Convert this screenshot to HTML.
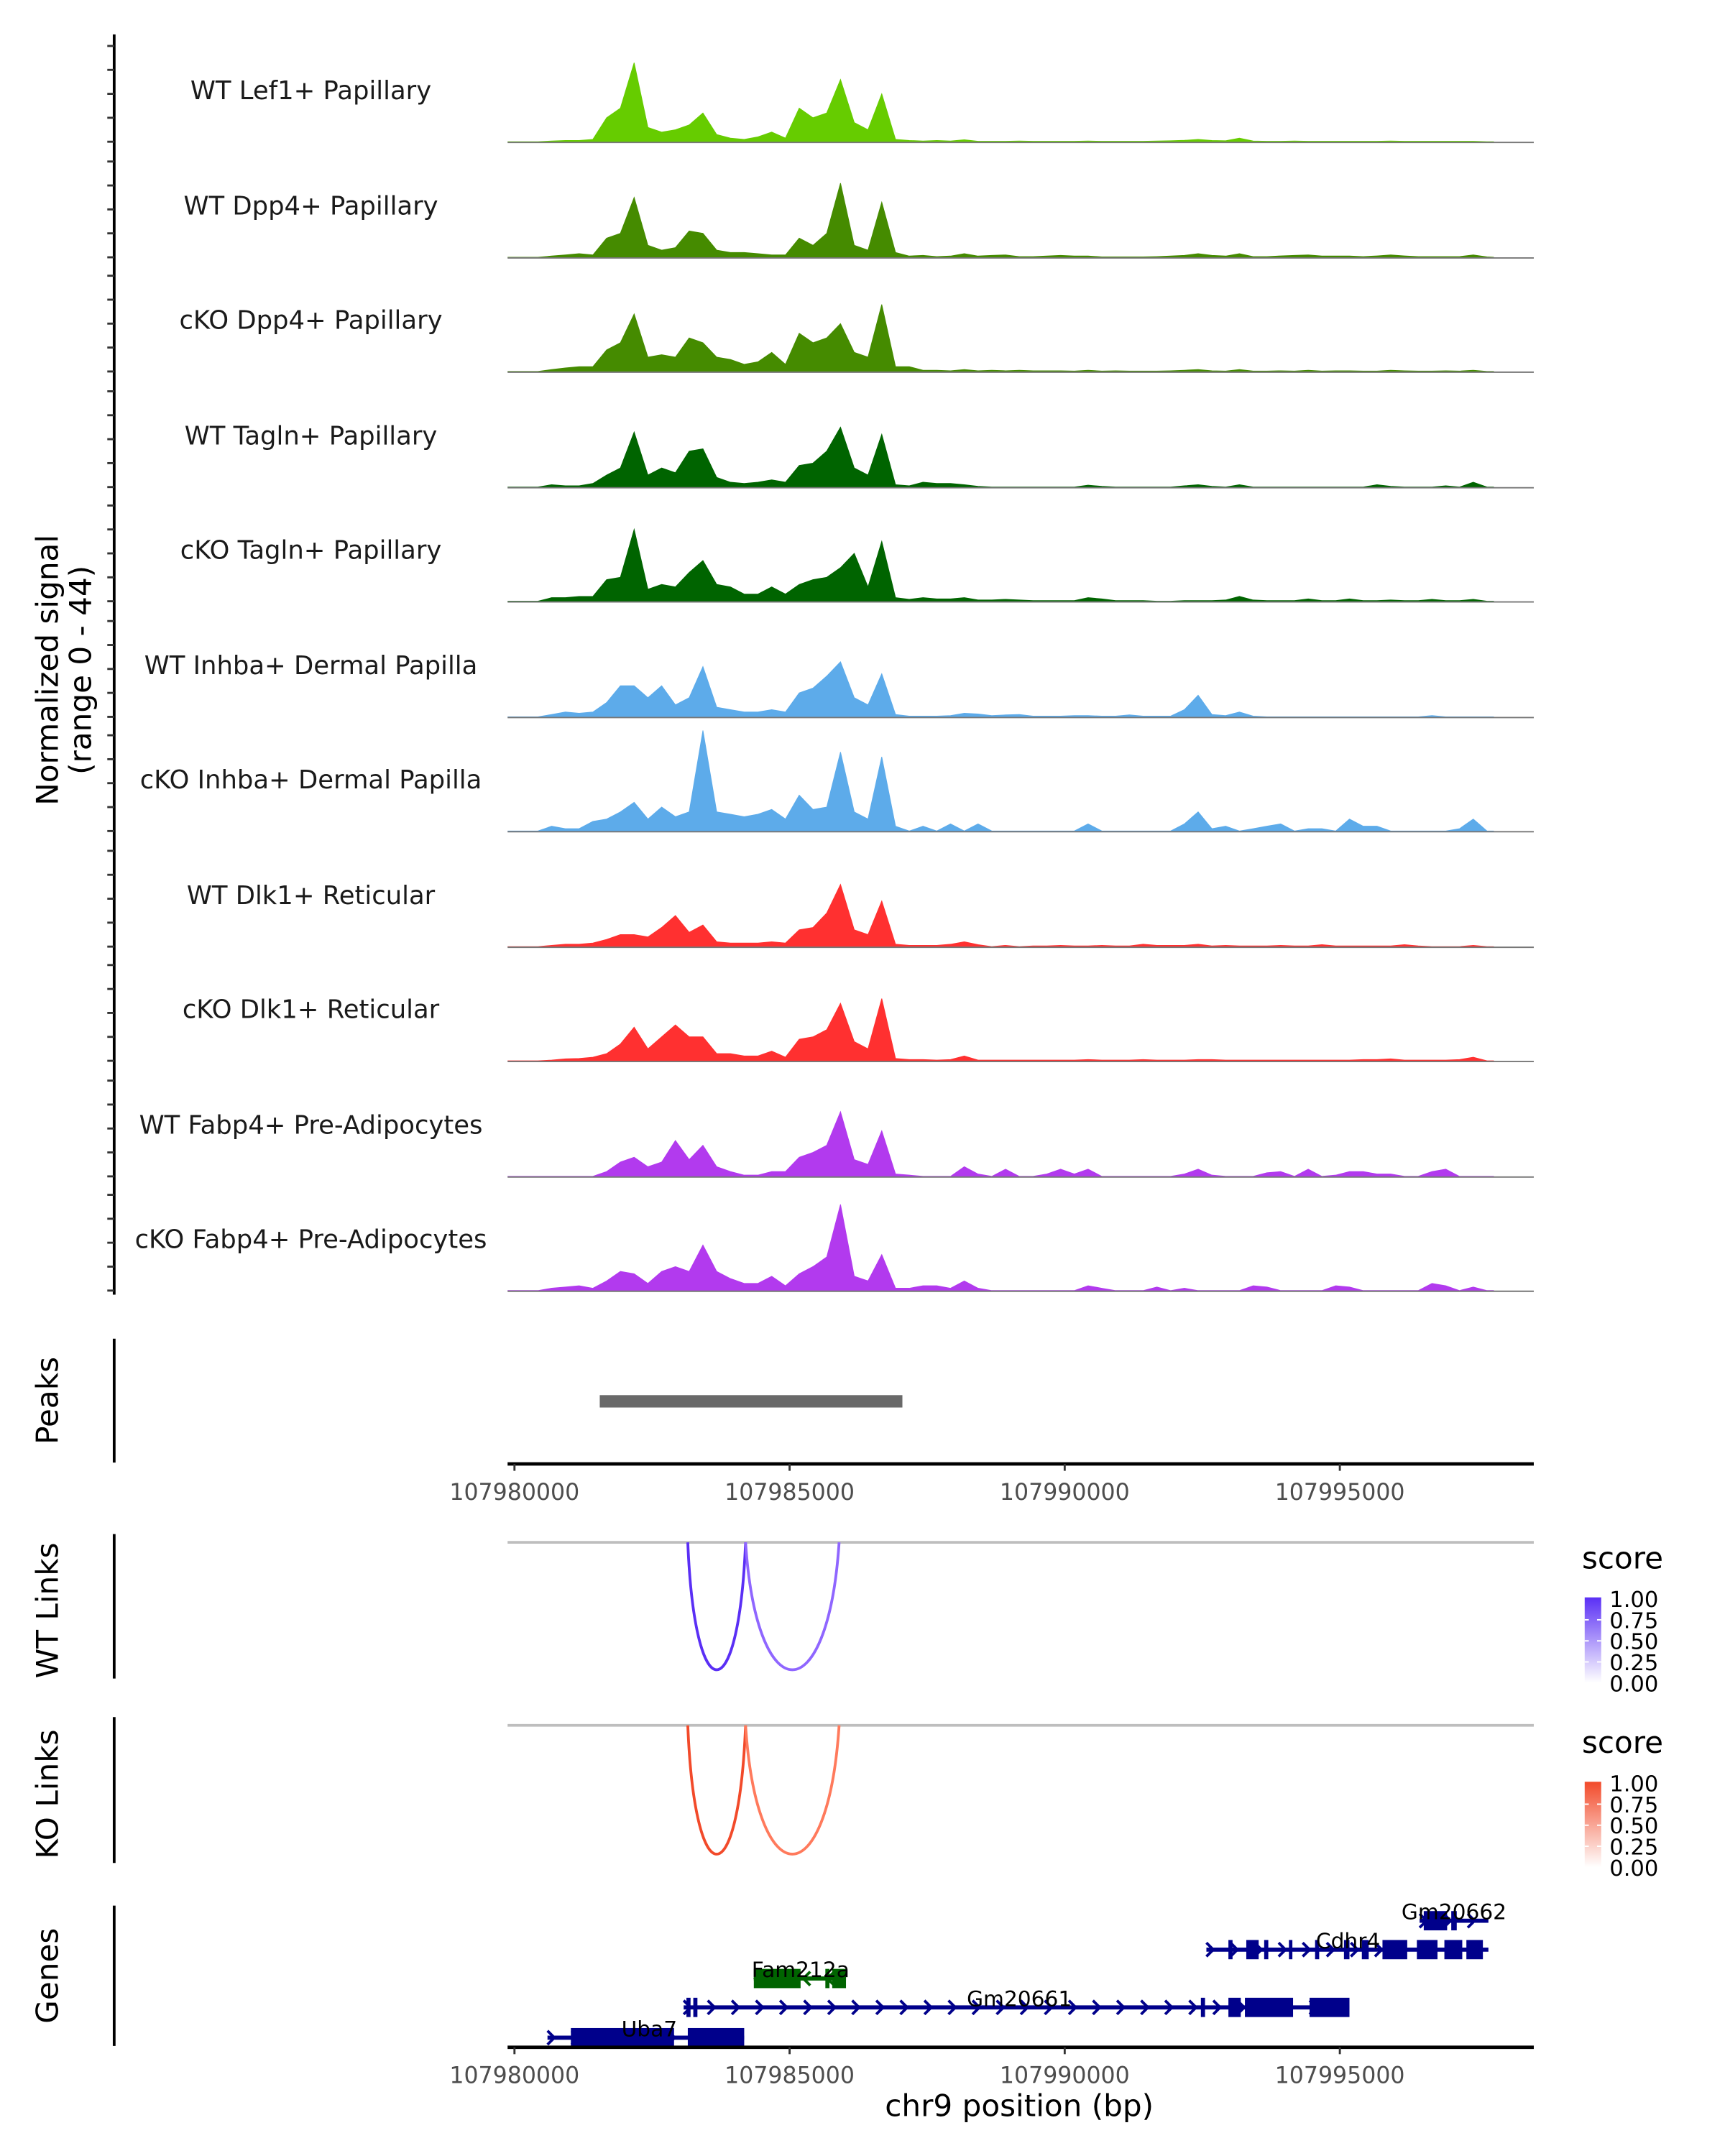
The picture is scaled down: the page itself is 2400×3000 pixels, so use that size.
<!DOCTYPE html>
<html><head><meta charset="utf-8"><style>
html,body{margin:0;padding:0;background:#fff;}
svg{display:block;font-family:"DejaVu Sans","Liberation Sans",sans-serif;}
</style></head><body>
<svg id="chart" width="2400" height="3000" viewBox="0 0 1254 1567" preserveAspectRatio="none" xmlns="http://www.w3.org/2000/svg"></svg>
<script>
// ---- data ----
const trackNames = ["WT Lef1+ Papillary","WT Dpp4+ Papillary","cKO Dpp4+ Papillary","WT Tagln+ Papillary","cKO Tagln+ Papillary","WT Inhba+ Dermal Papilla","cKO Inhba+ Dermal Papilla","WT Dlk1+ Reticular","cKO Dlk1+ Reticular","WT Fabp4+ Pre-Adipocytes","cKO Fabp4+ Pre-Adipocytes"];
const trackColors = ["#66CC00","#458B00","#458B00","#006400","#006400","#5DABEA","#5DABEA","#FF3030","#FF3030","#B23AEE","#B23AEE"];
const binStart = 107979800;
const binSize = 250;
const sigLef1 = [0,0,0,0.3,0.5,0.5,1,10,14,33,6,4,5,7,12,3,1.5,1,2,4,1.5,14,10,12,26,8,5,20,1,0.5,0.3,0.5,0.3,0.8,0.2,0.2,0.2,0.3,0.2,0.2,0.2,0.2,0.3,0.2,0.2,0.2,0.2,0.3,0.4,0.6,1,0.5,0.4,1.5,0.3,0.2,0.2,0.3,0.2,0.2,0.2,0.2,0.2,0.2,0.3,0.2,0.2,0.2,0.2,0.2,0.2,0];
const sigWTDpp4 = [0,0,0,0.5,1,1.5,1,8,10,25,5,3,4,11,10,3,2,2,1.5,1,1,8,5,10,31,5,3,23,2,0.5,0.8,0.3,0.5,1.5,0.5,0.8,1,0.3,0.3,0.5,0.8,0.5,0.5,0.2,0.2,0.2,0.2,0.3,0.5,0.8,1.5,0.8,0.5,1.5,0.3,0.3,0.6,0.8,1,0.5,0.5,0.5,0.3,0.6,1,0.6,0.3,0.3,0.3,0.3,1,0.2];
const sigKODpp4 = [0,0,0,0.8,1.5,2,2,9,12,24,6,7,6,14,12,6,5,3,4,8,3,16,12,14,20,8,6,28,2,2,0.5,0.5,0.3,0.8,0.3,0.5,0.3,0.5,0.3,0.3,0.3,0.2,0.5,0.2,0.3,0.2,0.2,0.2,0.3,0.5,0.8,0.3,0.2,0.8,0.2,0.2,0.3,0.2,0.5,0.2,0.3,0.3,0.2,0.2,0.5,0.3,0.2,0.2,0.3,0.2,0.5,0];
const sigWTTagln = [0,0,0,1,0.5,0.5,1.5,5,8,23,5,8,6,15,16,4,2,1.5,2,3,2,9,10,15,25,8,5,22,1,0.5,2,1.5,1.5,1,0.3,0,0,0,0,0,0,0,0.8,0.3,0,0,0,0,0,0.5,1,0.3,0,1,0,0,0,0,0,0,0,0,0,1,0.3,0,0,0,0.5,0,2,0];
const sigKOTagln = [0,0,0,1.5,1.5,2,2,9,10,30,5,7,6,12,17,7,6,3,3,6,3,7,9,10,14,20,6,25,1.5,0.8,1.5,1,1,1.5,0.5,0.5,0.8,0.5,0.3,0.3,0.3,0.3,1.5,1,0.3,0.3,0.3,0,0,0.3,0.3,0.3,0.5,2,0.5,0.3,0.3,0.3,1,0.3,0.3,1,0.3,0.3,0.5,0.3,0.3,0.8,0.3,0.3,0.8,0];
const sigWTInhba = [0,0,0,1,2,1.5,2,6,13,13,8,13,5,8,21,4,3,2,2,3,2,10,12,17,23,8,5,18,1,0.3,0.3,0.3,0.5,1.5,1.2,0.5,0.8,1,0.3,0.3,0.3,0.5,0.5,0.3,0.3,0.8,0.3,0.3,0.3,3,9,1,0.5,2,0.3,0,0,0,0,0,0,0,0,0,0,0,0,0.5,0,0,0,0];
const sigKOInhba = [0,0,0,2,1,1,4,5,8,12,5,10,6,8,42,8,7,6,7,9,5,15,9,10,33,8,5,31,2,0,2,0,3,0,3,0,0,0,0,0,0,0,3,0,0,0,0,0,0,3,8,1,2,0,1,2,3,0,1,1,0,5,2,2,0,0,0,0,0,1,5,0];
const sigWTDlk1 = [0,0,0,0.5,1,1,1.5,3,5,5,4,8,13,6,9,2,1.5,1.5,1.5,2,1.5,7,8,14,26,7,5,19,1,0.5,0.5,0.5,1,2,0.8,0,0.5,0,0.3,0.3,0.5,0.3,0.3,0.5,0.3,0.3,1,0.5,0.5,0.5,1,0.3,0.5,0.3,0.3,0.3,0.5,0.3,0.3,0.8,0.3,0.3,0.3,0.3,0.3,0.8,0.3,0,0,0,0.5,0];
const sigKODlk1 = [0,0,0,0.3,0.8,1,1.5,3,7,14,5,10,15,10,10,3,3,2,2,4,1.5,9,10,13,24,8,5,26,1,0.5,0.5,0.3,0.5,2,0.3,0.3,0.3,0.3,0.3,0.3,0.3,0.3,0.5,0.3,0.3,0.3,0.5,0.3,0.3,0.3,0.5,0.5,0.3,0.3,0.3,0.3,0.3,0.3,0.3,0.3,0.3,0.3,0.5,0.5,0.8,0.3,0.3,0.3,0.3,0.5,1.5,0];
const sigWTFabp4 = [0,0,0,0,0,0,0,2,6,8,4,6,15,7,13,4,2,0.5,0.5,2,2,8,10,13,27,7,5,19,1,0.5,0,0,0,4,1,0,3,0,0,1,3,1,3,0,0,0,0,0,0,1,3,0.5,0,0,0,1.5,2,0,3,0,0.5,2,2,1,1,0,0,2,3,0,0,0];
const sigKOFabp4 = [0,0,0,1,1.5,2,1,4,8,7,3,8,10,8,19,8,5,3,3,6,2,7,10,14,36,6,4,15,1,1,2,2,1,4,1,0,0,0,0,0,0,0,2,1,0,0,0,1.5,0,1,0,0,0,0,2,1.5,0,0,0,0,2,1.5,0,0,0,0,0,3,2,0,1.5,0];
const trackSignals = [sigLef1,sigWTDpp4,sigKODpp4,sigWTTagln,sigKOTagln,sigWTInhba,sigKOInhba,sigWTDlk1,sigKODlk1,sigWTFabp4,sigKOFabp4];
const xTicks = [107980000,107985000,107990000,107995000];
const peakStarts = [107981550];
const peakEnds = [107987050];
const wtLinkStarts = [107983150,107984200];
const wtLinkEnds = [107984200,107985900];
const wtLinkScores = [0.85,0.6];
const koLinkStarts = [107983150,107984200];
const koLinkEnds = [107984200,107985900];
const koLinkScores = [0.85,0.6];
const legendTicks = ["1.00","0.75","0.50","0.25","0.00"];
const geneNames = ["Uba7","Gm20661","Fam212a","Cdhr4","Gm20662"];
const geneStarts = [107980600,107983075,107984350,107992575,107996450];
const geneEnds = [107984175,107995175,107986025,107997700,107997700];
const geneStrands = [1,1,-1,1,1];
const geneExons = [
 [[107981025,107982900],[107983150,107984175]],
 [[107983125,107983200],[107983250,107983325],[107992475,107992550],[107992975,107993200],[107993275,107994150],[107994450,107995175]],
 [[107984350,107985200],[107985650,107985725],[107985775,107986025]],
 [[107992975,107993050],[107993300,107993525],[107993625,107993700],[107994075,107994125],[107994550,107994625],[107995075,107995175],[107995400,107995525],[107995775,107996225],[107996400,107996775],[107996900,107997225],[107997300,107997600]],
 [[107996525,107996950],[107997025,107997125]]
];
const geneLabelX = [107982450,107989175,107985200,107995150,107997075];
const geneRows = [1481,1459,1438,1417,1396];
const geneColors = ["#00008B","#00008B","#006400","#00008B","#00008B"];

// ---- helpers ----
const NS="http://www.w3.org/2000/svg";
const svg=document.getElementById('chart');
function mk(tag,attrs,parent){const e=document.createElementNS(NS,tag);for(const k in attrs)e.setAttribute(k,attrs[k]);(parent||svg).appendChild(e);return e;}
const X0=374, PXBP=1/25, LEFT=369, RIGHT=1115;
function xs(bp){return X0+(bp-107980000)*PXBP;}
const UNIT=1.74;
const baselines=[103,187,270,354,437,521,604,688,771,855,938];

let ax=mk('line',{x1:83,y1:25,x2:83,y2:941,stroke:'#000','stroke-width':2});

baselines.forEach(b=>{for(let v=0;v<=40;v+=10){const t=mk('line',{x1:78,x2:83,y1:b-v*UNIT,y2:b-v*UNIT,stroke:'#333','stroke-width':1.5});}});
let yt=mk('text',{x:0,y:0,transform:'translate(42,487) rotate(-90)','text-anchor':'middle','font-size':22});
yt.textContent='Normalized signal';
let yt2=mk('text',{x:0,y:0,transform:'translate(66,487) rotate(-90)','text-anchor':'middle','font-size':22});
yt2.textContent='(range 0 - 44)';

trackNames.forEach((name,ti)=>{
  const b=baselines[ti], sig=trackSignals[ti];
  const g=mk('g',{});
  let d='M'+Math.max(LEFT,xs(binStart))+','+b;
  sig.forEach((v,i)=>{d+=' L'+Math.max(LEFT,xs(binStart+binSize*(i+0.5))).toFixed(1)+','+(b-Math.min(v,44)*UNIT).toFixed(1);});
  d+=' L'+xs(binStart+binSize*sig.length)+','+b+' Z';
  const p=mk('path',{d:d,fill:trackColors[ti],stroke:trackColors[ti],'stroke-width':0.5},g);
  
  const bl=mk('line',{x1:LEFT,x2:RIGHT,y1:b+0.5,y2:b+0.5,stroke:'#777','stroke-width':1},g);
  
  const t=mk('text',{x:226,y:b-31,'text-anchor':'middle','font-size':18.5,fill:'#1a1a1a'},g);
  t.textContent=name;
});

function panelAxis(y1,y2,label,ly,name){
  const l=mk('line',{x1:83,x2:83,y1:y1,y2:y2,stroke:'#000','stroke-width':2});
  
  const t=mk('text',{x:0,y:0,transform:'translate(42,'+ly+') rotate(-90)','text-anchor':'middle','font-size':22});
  t.textContent=label;
}
panelAxis(973,1063,'Peaks',1018,'peaks');
peakStarts.forEach((s,i)=>{const r=mk('rect',{x:xs(s),y:1014,width:xs(peakEnds[i])-xs(s),height:9,fill:'#696969'});});
function xAxis(y,name){
  const l=mk('line',{x1:LEFT,x2:RIGHT,y1:y,y2:y,stroke:'#000','stroke-width':2.5});
  
  xTicks.forEach(v=>{const t=mk('line',{x1:xs(v),x2:xs(v),y1:y,y2:y+5,stroke:'#333','stroke-width':1.5});
    const tx=mk('text',{x:xs(v),y:y+26,'text-anchor':'middle','font-size':16.5,fill:'#4d4d4d'});tx.textContent=v;});
}
xAxis(1064,'peaks-x-axis');

function linkPanel(top,bottom,label,starts,ends,scores,c0,c1,name,legendY,gradId){
  panelAxis(top-6,bottom,label,(top+bottom)/2,name);
  const bl=mk('line',{x1:LEFT,x2:RIGHT,y1:top,y2:top,stroke:'#bebebe','stroke-width':2});
  
  const depth=bottom-top-4;
  starts.forEach((s,i)=>{
    const a=xs(s),e=xs(ends[i]);
    const col=scores[i]>0.7?c0:c1;
    const p=mk('path',{d:`M${a},${top} C${a+(e-a)*0.12},${top+depth*1.3} ${e-(e-a)*0.12},${top+depth*1.3} ${e},${top}`,fill:'none',stroke:col,'stroke-width':2});
    
  });
  const defs=mk('defs',{});const lg=mk('linearGradient',{id:gradId,x1:0,y1:0,x2:0,y2:1},defs);
  mk('stop',{offset:'0%','stop-color':c0},lg);mk('stop',{offset:'100%','stop-color':'#ffffff'},lg);
  const st=mk('text',{x:1150,y:legendY,'font-size':22});st.textContent='score';
  const r=mk('rect',{x:1152,y:legendY+21,width:12,height:62,fill:`url(#${gradId})`});
  legendTicks.forEach((lab,i)=>{const yy=legendY+22+i*15.3;
    const t=mk('text',{x:1170,y:yy+6,'font-size':16});t.textContent=lab;
    if(i>0&&i<4){mk('line',{x1:1152,x2:1155,y1:yy,y2:yy,stroke:'#fff'});mk('line',{x1:1161,x2:1164,y1:yy,y2:yy,stroke:'#fff'});}
  });
}
linkPanel(1121,1220,'WT Links',wtLinkStarts,wtLinkEnds,wtLinkScores,'#5a2ff5','#8f66ff','wt-links',1140,'gwt');
linkPanel(1254,1354,'KO Links',koLinkStarts,koLinkEnds,koLinkScores,'#f24a2a','#ff7a5c','ko-links',1274,'gko');

panelAxis(1385,1487,'Genes',1436,'genes');
geneNames.forEach((nm,gi)=>{
  const y=geneRows[gi],col=geneColors[gi];
  const g=mk('g',{});
  const a=xs(geneStarts[gi]),e=xs(geneEnds[gi]);
  mk('line',{x1:a,x2:e,y1:y,y2:y,stroke:col,'stroke-width':3},g);
  for(let x=a+3;x<e;x+=17.5){const dir=geneStrands[gi];
    mk('path',{d:`M${x-3*dir},${y-5} L${x+2*dir},${y} L${x-3*dir},${y+5}`,fill:'none',stroke:col,'stroke-width':2},g);}
  geneExons[gi].forEach(ex=>{const r=mk('rect',{x:xs(ex[0]),y:y-7,width:Math.max(2.5,xs(ex[1])-xs(ex[0])),height:14,fill:col},g);});
  const t=mk('text',{x:xs(geneLabelX[gi]),y:y-1,'text-anchor':'middle','font-size':15.5,fill:'#000'},g);
  t.textContent=nm;
});
xAxis(1488,'genes-x-axis');
const xt=mk('text',{x:741,y:1538,'text-anchor':'middle','font-size':22});
xt.textContent='chr9 position (bp)';
</script>
</body></html>
